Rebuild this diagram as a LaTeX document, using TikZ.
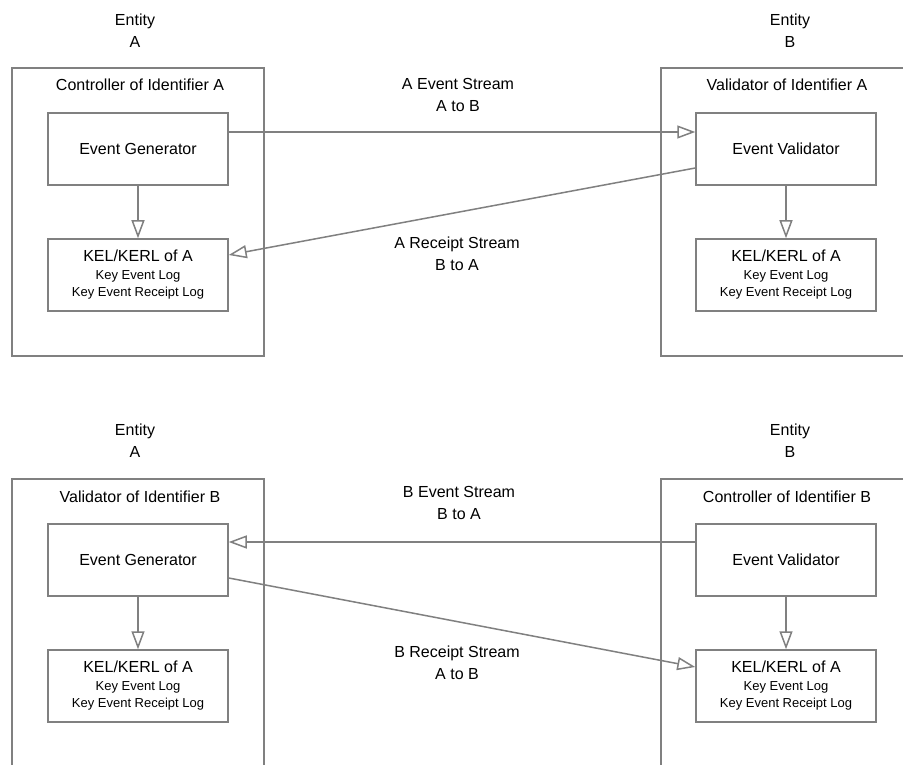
\documentclass[tikz,border=0pt]{standalone}
\usepackage{fontspec}
\setmainfont{Liberation Sans}
\usetikzlibrary{arrows.meta}
\definecolor{edge}{HTML}{808080}
\begin{document}
\begin{tikzpicture}[x=1pt,y=-1pt,
  outerbox/.style={draw=edge, line width=1.5pt, inner sep=0pt, minimum width=252pt, minimum height=288pt},
  tallbox/.style={outerbox, minimum height=322pt},
  innerbox/.style={draw=edge, line width=1.5pt, inner sep=0pt, minimum width=180pt, minimum height=72pt,
    align=center, font=\fontsize{16}{20}\selectfont},
  txt/.style={align=center, inner sep=0pt, font=\fontsize{16}{22}\selectfont},
  flow/.style={draw=edge, line width=1.5pt, -{Triangle[open, length=18pt, width=13pt]}},
]
\useasboundingbox (0,0) rectangle (903,765);
\clip (0,0) rectangle (903,765);
\fill[white] (0,0) rectangle (903,765);

\newcommand{\kel}{KEL/KERL of A\\[-2pt]{\fontsize{13}{18}\selectfont Key Event Log}\\[-3pt]{\fontsize{13}{18}\selectfont Key Event Receipt Log}}

% ---------- upper half: identifier A ----------
\node[txt] (entA1) at (135,31) {Entity\\A};
\node[txt] (entB1) at (790,31) {Entity\\B};

\node[outerbox] (ctrlA) at (138,212) {};
\node[txt] (ctrlAt) at (140,85) {Controller of Identifier A};
\node[innerbox] (genA) at (138,149) {Event Generator};
\node[innerbox] (kelA) at (138,275) {\kel};

\node[outerbox, minimum width=260pt] (valA) at (791,212) {};
\node[txt] (valAt) at (787,85) {Validator of Identifier A};
\node[innerbox] (evA) at (786,149) {Event Validator};
\node[innerbox] (kelA2) at (786,275) {\kel};

\draw[flow] (genA) -- (kelA);
\draw[flow] (evA) -- (kelA2);
\draw[flow] ([yshift=17pt]genA.east) -- ([yshift=17pt]evA.west);
\draw[flow] ([yshift=-19pt]evA.west) -- ([yshift=20pt]kelA.east);

\node[txt] (lblA1) at (458,95) {A Event Stream\\A to B};
\node[txt] (lblA2) at (457,254) {A Receipt Stream\\B to A};

% ---------- lower half: identifier B ----------
\node[txt] (entA2) at (135,441) {Entity\\A};
\node[txt] (entB2) at (790,441) {Entity\\B};

\node[tallbox] (valB) at (138,640) {};
\node[txt] (valBt) at (140,497) {Validator of Identifier B};
\node[innerbox] (genB) at (138,560) {Event Generator};
\node[innerbox] (kelB) at (138,686) {\kel};

\node[tallbox, minimum width=260pt] (ctrlB) at (791,640) {};
\node[txt] (ctrlBt) at (787,497) {Controller of Identifier B};
\node[innerbox] (evB) at (786,560) {Event Validator};
\node[innerbox] (kelB2) at (786,686) {\kel};

\draw[flow] (genB) -- (kelB);
\draw[flow] (evB) -- (kelB2);
\draw[flow] ([yshift=18pt]evB.west) -- ([yshift=18pt]genB.east);
\draw[flow] ([yshift=-18pt]genB.east) -- ([yshift=19pt]kelB2.west);

\node[txt] (lblB1) at (459,503) {B Event Stream\\B to A};
\node[txt] (lblB2) at (457,663) {B Receipt Stream\\A to B};
\end{tikzpicture}
\end{document}
